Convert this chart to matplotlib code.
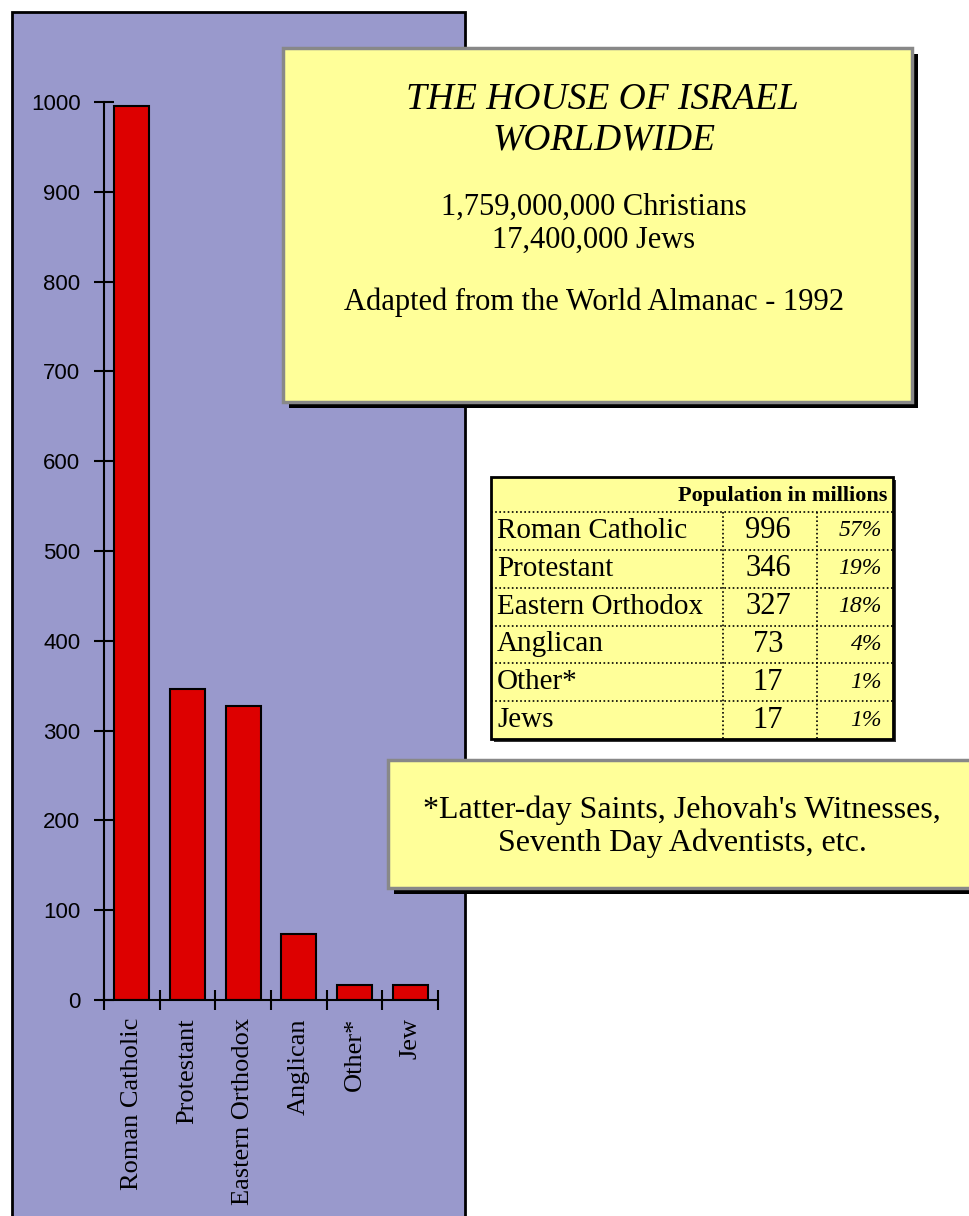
import matplotlib.pyplot as plt
from matplotlib.patches import Rectangle

# data
categories = ["Roman Catholic", "Protestant", "Eastern Orthodox", "Anglican", "Other*", "Jew"]
values = [996, 346, 327, 73, 17, 17]
table_labels = ["Roman Catholic", "Protestant", "Eastern Orthodox", "Anglican", "Other*", "Jews"]
table_values = [996, 346, 327, 73, 17, 17]
table_pcts = ["57%", "19%", "18%", "4%", "1%", "1%"]
yticks = [0, 100, 200, 300, 400, 500, 600, 700, 800, 900, 1000]

W, H = 970, 1216
PURPLE = "#9999CC"
YELLOW = "#FFFF99"
RED = "#DD0000"
SERIF = "Liberation Serif"

fig = plt.figure(figsize=(W / 100, H / 100), dpi=100)
fig.patch.set_facecolor("white")


def fx(px):
    return px / W


def fy(py):
    return 1 - py / H


# background layer with the purple panel
bg = fig.add_axes([0, 0, 1, 1], zorder=0)
bg.set_xlim(0, W)
bg.set_ylim(H, 0)
bg.axis("off")
bg.add_patch(Rectangle((12, 12), 453, H + 20, facecolor=PURPLE, edgecolor="black", lw=2))

# bar chart
ax = fig.add_axes([fx(104), fy(1000), fx(438) - fx(104), fy(102) - fy(1000)], zorder=1)
ax.set_facecolor("none")
x = range(len(categories))
ax.bar(x, values, width=0.63, color=RED, edgecolor="black", linewidth=1.5)
ax.set_xlim(-0.5, len(categories) - 0.5)
ax.set_ylim(0, 1000)
ax.set_yticks(yticks)
ax.set_yticklabels([str(v) for v in yticks], fontfamily="Liberation Sans", fontsize=16)
ax.set_xticks([i - 0.5 for i in range(len(categories) + 1)])
ax.set_xticklabels([])
ax.set_xticks(list(x), minor=True)
ax.set_xticklabels(categories, minor=True, rotation=90, fontfamily=SERIF, fontsize=19,
                   va="top")
ax.tick_params(axis="x", which="major", direction="inout", length=14, width=1.5)
ax.tick_params(axis="x", which="minor", length=0, pad=13)
ax.tick_params(axis="y", direction="inout", length=14, width=1.5, pad=10)
for s in ["top", "right"]:
    ax.spines[s].set_visible(False)
for s in ["left", "bottom"]:
    ax.spines[s].set_linewidth(1.5)

# overlay layer with the yellow boxes
ov = fig.add_axes([0, 0, 1, 1], zorder=2)
ov.set_xlim(0, W)
ov.set_ylim(H, 0)
ov.axis("off")
ov.patch.set_alpha(0)

# title box
ov.add_patch(Rectangle((289, 54), 629, 354, facecolor="black", edgecolor="none"))
ov.add_patch(Rectangle((283, 48), 629, 354, facecolor=YELLOW, edgecolor="#888888", lw=2.5))
ov.text(602, 100, "THE HOUSE OF ISRAEL", ha="center", va="center", fontfamily=SERIF,
        style="italic", fontsize=27)
ov.text(604, 140, "WORLDWIDE", ha="center", va="center", fontfamily=SERIF,
        style="italic", fontsize=27)
ov.text(594, 207, "1,759,000,000 Christians", ha="center", va="center", fontfamily=SERIF,
        fontsize=22)
ov.text(594, 240, "17,400,000 Jews", ha="center", va="center", fontfamily=SERIF, fontsize=22)
ov.text(594, 302, "Adapted from the World Almanac - 1992", ha="center", va="center",
        fontfamily=SERIF, fontsize=22)

# table
tx0, tx1, ty0, ty1 = 491, 893, 477, 739
ov.add_patch(Rectangle((tx0 + 3, ty0 + 3), tx1 - tx0, ty1 - ty0, facecolor="#333333"))
ov.add_patch(Rectangle((tx0, ty0), tx1 - tx0, ty1 - ty0, facecolor=YELLOW, edgecolor="black", lw=2))
ov.text(887, 496, "Population in millions", ha="right", va="center", fontfamily=SERIF,
        fontweight="bold", fontsize=16)
row_top = 512
row_h = (ty1 - row_top) / len(table_labels)
for i, (lab, val, pct) in enumerate(zip(table_labels, table_values, table_pcts)):
    y0 = row_top + i * row_h
    ov.plot([tx0, tx1], [y0, y0], color="black", lw=1.2, ls=(0, (1, 1.5)))
    yc = y0 + row_h / 2
    ov.text(497, yc, lab, ha="left", va="center", fontfamily=SERIF, fontsize=21)
    ov.text(768, yc, str(val), ha="center", va="center", fontfamily=SERIF, fontsize=22)
    ov.text(882, yc, pct, ha="right", va="center", fontfamily=SERIF, style="italic",
            fontsize=17)
ov.plot([723, 723], [row_top, ty1], color="black", lw=1.2, ls=(0, (1, 1.5)))
ov.plot([817, 817], [row_top, ty1], color="black", lw=1.2, ls=(0, (1, 1.5)))

# footnote box
ov.add_patch(Rectangle((394, 766), 600, 128, facecolor="black"))
ov.add_patch(Rectangle((388, 760), 600, 128, facecolor=YELLOW, edgecolor="#888888", lw=2.5))
ov.text(682, 810, "*Latter-day Saints, Jehovah's Witnesses,", ha="center", va="center",
        fontfamily=SERIF, fontsize=23)
ov.text(682, 843, "Seventh Day Adventists, etc.", ha="center", va="center",
        fontfamily=SERIF, fontsize=23)

plt.savefig("out.png", dpi=100)
